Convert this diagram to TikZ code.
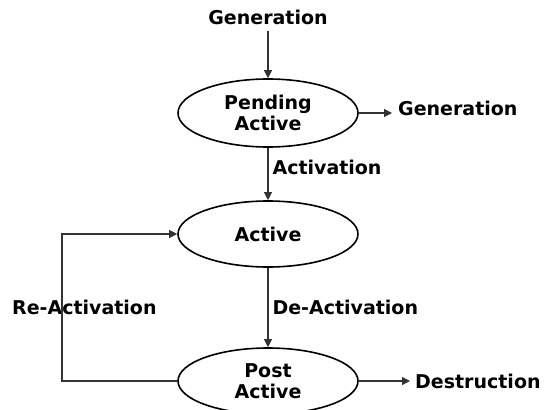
\documentclass[tikz,border=0pt]{standalone}
\usepackage{fontspec}
\setmainfont{DejaVu Sans}
\usetikzlibrary{shapes.geometric,arrows.meta}
\begin{document}
\begin{tikzpicture}[x=1pt,y=-1pt,
  state/.style={ellipse,draw=black,line width=1.6pt,minimum width=180pt,minimum height=68pt,inner sep=0pt,align=center,font=\bfseries\fontsize{19}{21}\selectfont},
  lbl/.style={font=\bfseries\fontsize{19}{21}\selectfont,inner sep=0pt},
  conn/.style={draw=black!80,line width=1.1pt,-{Triangle[length=8pt,width=8pt]}},
  plain/.style={draw=black!80,line width=1.1pt}]
\useasboundingbox (0,0) rectangle (545,409);
\node[lbl] (gen1) at (268,17) {Generation};
\node[state] (pend) at (268,113) {Pending\\Active};
\node[lbl,anchor=west] (gen2) at (398,108) {Generation};
\node[state,minimum height=66pt] (act) at (268,234) {Active};
\node[state,minimum height=66pt] (post) at (268,381) {Post\\Active};
\node[lbl,anchor=west] (dest) at (415,381) {Destruction};
\node[lbl,anchor=west] (re) at (12,307) {Re-Activation};
\coordinate (pendE) at (392,113);
\coordinate (postE) at (410,381);
\draw[conn] (gen1.south) ++(0,6) -- (pend.north);
\draw[conn] (pend.east) -- (pendE);
\draw[conn] (pend.south) -- node[lbl,anchor=west,xshift=4pt,yshift=7pt]{Activation} (act.north);
\draw[conn] (act.south) -- node[lbl,anchor=west,xshift=4pt,yshift=0pt]{De-Activation} (post.north);
\draw[conn] (post.east) -- (postE);
\draw[conn] (post.west) -- (62,381) -- (62,234) -- (act.west);
\end{tikzpicture}
\end{document}
